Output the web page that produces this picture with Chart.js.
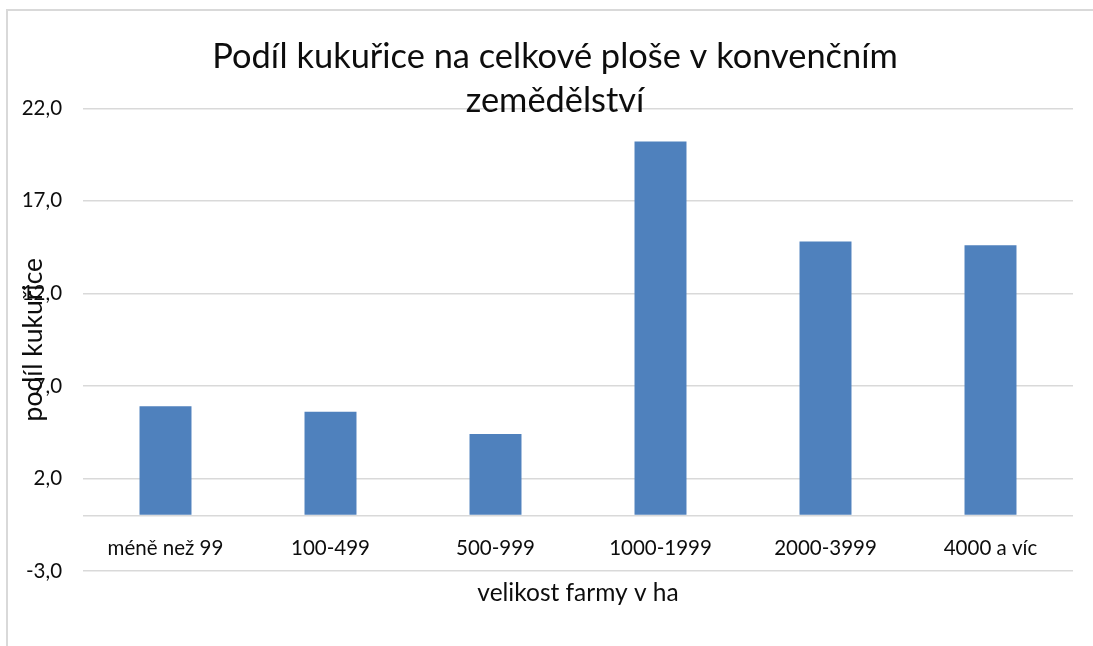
<!DOCTYPE html>
<html>
<head>
<meta charset="utf-8">
<script src="https://cdn.jsdelivr.net/npm/chart.js@4/dist/chart.umd.min.js"></script>
<style>
  html, body { margin: 0; padding: 0; background: #fff; }
  #wrap { position: relative; width: 1093px; height: 646px; overflow: hidden; }
  #frame { position: absolute; left: 6px; top: 9px; width: 1200px; height: 700px;
           border-left: 2px solid #d9d9d9; border-top: 2px solid #d9d9d9; }
  canvas { position: absolute; left: 0; top: 0; }
</style>
</head>
<body>
<div id="wrap">
  <div id="frame"></div>
  <canvas id="c" width="1093" height="646"></canvas>
</div>
<script>
const categories = ['méně než 99', '100-499', '500-999', '1000-1999', '2000-3999', '4000 a víc'];
const shareValues = [5.9, 5.6, 4.4, 20.2, 14.8, 14.6];
const yTickValues = [-3, 0, 2, 7, 12, 17, 22];
const yTickLabels = ['-3,0', '', '2,0', '7,0', '12,0', '17,0', '22,0'];
const chartTitle = ['Podíl kukuřice na celkové ploše v konvenčním', 'zemědělství'];
const xAxisTitle = 'velikost farmy v ha';
const yAxisTitle = 'podíl kukuřice';

const FONT = 'Lato, "Open Sans", sans-serif';
const TEXT = '#0d0d0d';
const GRID = '#d9d9d9';

new Chart(document.getElementById('c'), {
  type: 'bar',
  data: {
    labels: categories,
    datasets: [{
      data: shareValues,
      backgroundColor: '#4f81bd',
      borderWidth: 0,
      categoryPercentage: 1,
      barPercentage: 0.315
    }]
  },
  options: {
    responsive: false,
    devicePixelRatio: 1,
    animation: false,
    layout: { padding: { top: 0, left: 37, right: 20, bottom: 75 } },
    plugins: {
      legend: { display: false },
      tooltip: { enabled: false },
      title: {
        display: true,
        text: chartTitle,
        color: TEXT,
        font: { family: FONT, size: 34.4, weight: 'normal', lineHeight: '44px' },
        padding: { top: 35, bottom: -14.7 }
      }
    },
    scales: {
      x: {
        position: { y: 0 },
        grid: { display: false, drawTicks: false },
        border: { display: false },
        ticks: { color: TEXT, font: { family: FONT, size: 20.5, lineHeight: 1.2 }, padding: 20.7, maxRotation: 0, autoSkip: false },
        title: { display: true, text: xAxisTitle, color: TEXT, font: { family: FONT, size: 24.5, lineHeight: 1.2 }, padding: { top: -2.7, bottom: 0 } }
      },
      y: {
        min: -3,
        max: 22,
        afterBuildTicks: (scale) => { scale.ticks = yTickValues.map(v => ({ value: v })); },
        grid: { color: GRID, lineWidth: 1.6, drawTicks: false },
        border: { display: false },
        ticks: {
          autoSkip: false,
          mirror: true,
          crossAlign: 'far',
          color: TEXT,
          padding: -61.3,
          font: { family: FONT, size: 20.5, lineHeight: 1.2 },
          callback: (value) => {
            const i = yTickValues.indexOf(value);
            return i >= 0 ? yTickLabels[i] : '';
          }
        },
        title: { display: true, text: yAxisTitle, color: TEXT, font: { family: FONT, size: 26.5, lineHeight: 1.2 }, padding: { top: -19.9, bottom: 156.7 } }
      }
    }
  }
});
</script>
</body>
</html>
